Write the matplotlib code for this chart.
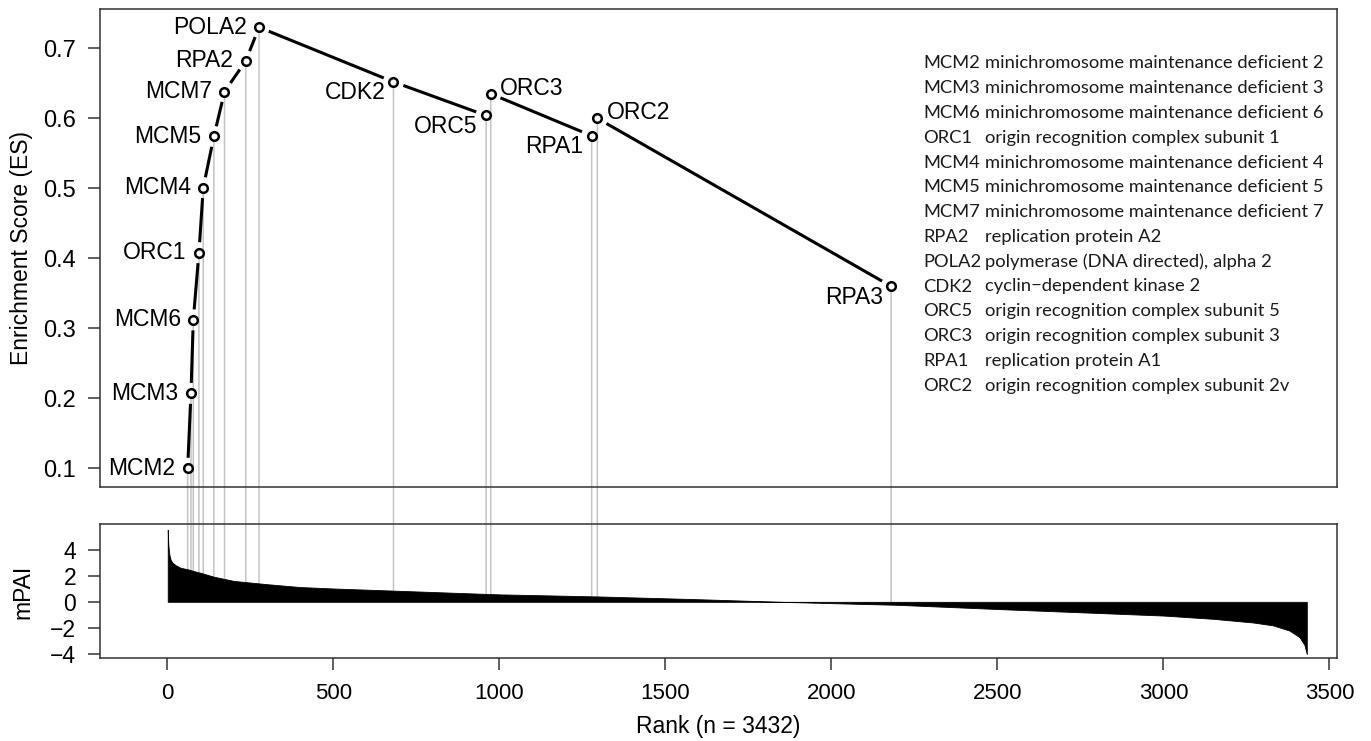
import numpy as np
import matplotlib
matplotlib.use("Agg")
import matplotlib.pyplot as plt
from matplotlib.patches import ConnectionPatch

# ---------------- data ----------------
genes = ['MCM2', 'MCM3', 'MCM6', 'ORC1', 'MCM4', 'MCM5', 'MCM7', 'RPA2',
         'POLA2', 'CDK2', 'ORC5', 'ORC3', 'RPA1', 'ORC2', 'RPA3']
gene_rank = [61, 71, 78, 95, 108, 140, 172, 236, 276, 681, 960, 974, 1278, 1295, 2180]
gene_es = [0.100, 0.207, 0.312, 0.408, 0.501, 0.574, 0.638, 0.682, 0.730,
           0.652, 0.604, 0.635, 0.575, 0.600, 0.360]
label_side = ['L', 'L', 'L', 'L', 'L', 'L', 'L', 'L', 'L',
              'LB', 'LB', 'RA', 'LB', 'RA', 'LB']

legend_genes = ['MCM2', 'MCM3', 'MCM6', 'ORC1', 'MCM4', 'MCM5', 'MCM7', 'RPA2',
                'POLA2', 'CDK2', 'ORC5', 'ORC3', 'RPA1', 'ORC2']
legend_desc = ['minichromosome maintenance deficient 2',
               'minichromosome maintenance deficient 3',
               'minichromosome maintenance deficient 6',
               'origin recognition complex subunit 1',
               'minichromosome maintenance deficient 4',
               'minichromosome maintenance deficient 5',
               'minichromosome maintenance deficient 7',
               'replication protein A2',
               'polymerase (DNA directed), alpha 2',
               'cyclin\u2212dependent kinase 2',
               'origin recognition complex subunit 5',
               'origin recognition complex subunit 3',
               'replication protein A1',
               'origin recognition complex subunit 2v']

# ranked mPAI profile (values read at these ranks)
mpai_rank = [1, 3, 6, 10, 15, 25, 40, 60, 80, 100, 140, 200, 300, 400, 500,
             700, 1000, 1300, 1600, 1850, 2000, 2200, 2500, 2800, 3000, 3150,
             3270, 3330, 3380, 3410, 3425, 3432]
mpai_val = [5.5, 4.3, 3.6, 3.2, 3.0, 2.8, 2.6, 2.5, 2.35, 2.22, 1.92, 1.6,
            1.35, 1.13, 1.02, 0.84, 0.57, 0.41, 0.2, 0.0, -0.1, -0.23, -0.55,
            -0.85, -1.05, -1.3, -1.58, -1.8, -2.2, -2.7, -3.3, -4.0]
n_total = 3432

x_ticks = [0, 500, 1000, 1500, 2000, 2500, 3000, 3500]
es_ticks = [0.1, 0.2, 0.3, 0.4, 0.5, 0.6, 0.7]
mpai_ticks = [-4, -2, 0, 2, 4]

# ---------------- figure ----------------
W, H = 1371, 741
fig = plt.figure(figsize=(W / 100, H / 100), dpi=100)
fig.patch.set_facecolor('white')

FONT = 'Liberation Sans'
LFONT = 'Lato'

def px_box(left, top, right, bottom):
    return [left / W, 1 - bottom / H, (right - left) / W, (bottom - top) / H]

ax1 = fig.add_axes(px_box(100, 9.3, 1337, 486.7))
ax2 = fig.add_axes(px_box(100, 524.3, 1337, 658.3))
for ax in (ax1, ax2):
    ax.patch.set_visible(False)
    for s in ax.spines.values():
        s.set_linewidth(1.1)
        s.set_color('#333333')
    ax.set_xlim(-203, 3523)
    ax.tick_params(direction='out', length=8.6, width=1.1, color='#333333',
                   labelsize=16, pad=8.5)

ax1.set_ylim(0.0737, 0.7557)
ax2.set_ylim(-4.32, 5.93)

ax1.set_xticks([])
ax1.set_yticks(es_ticks)
ax1.set_yticklabels([f'{t:.1f}' for t in es_ticks], fontfamily=FONT, fontsize=17)
ax2.set_xticks(x_ticks)
ax2.set_xticklabels([str(t) for t in x_ticks], fontfamily=FONT, fontsize=16)
ax2.tick_params(axis='x', pad=9.4)
ax2.set_yticks(mpai_ticks)
ax2.set_yticklabels([f'\u2212{abs(t)}' if t < 0 else str(t) for t in mpai_ticks],
                    fontfamily=FONT, fontsize=16.5)

# mPAI profile
ax2.fill_between(mpai_rank, 0, mpai_val, color='black', lw=0.6,
                 edgecolor='black', zorder=3)

# gray connecting lines (behind everything)
for r, e in zip(gene_rank, gene_es):
    cp = ConnectionPatch(xyA=(r, e), coordsA=ax1.transData,
                         xyB=(r, 0), coordsB=ax2.transData,
                         color='#c4c4c4', lw=1.1, zorder=-1)
    fig.add_artist(cp)

# ES line segments with gaps around points (like R type="b")
gap = 10.5  # px
for i in range(len(gene_rank) - 1):
    p1 = ax1.transData.transform((gene_rank[i], gene_es[i]))
    p2 = ax1.transData.transform((gene_rank[i + 1], gene_es[i + 1]))
    d = p2 - p1
    L = np.hypot(*d)
    if L <= 2 * gap + 5:
        continue
    u = d / L
    q1 = ax1.transData.inverted().transform(p1 + u * gap)
    q2 = ax1.transData.inverted().transform(p2 - u * gap)
    ax1.plot([q1[0], q2[0]], [q1[1], q2[1]], color='black', lw=2.2,
             solid_capstyle='butt', zorder=4)

ax1.plot(gene_rank, gene_es, linestyle='none', marker='o', ms=6.2,
         mfc='white', mec='black', mew=1.8, zorder=5)

# gene labels
for g, r, e, side in zip(genes, gene_rank, gene_es, label_side):
    if side == 'L':
        off, ha, va = (-9.0, 0.0), 'right', 'center'
    elif side == 'LB':
        off, ha, va = (-6.0, -7.8), 'right', 'center'
    else:
        off, ha, va = (6.7, 4.0), 'left', 'center'
    ax1.annotate(g, (r, e), xytext=off, textcoords='offset points',
                 ha=ha, va=va, fontsize=16.5, fontfamily=FONT, zorder=6)

# legend text block
y0 = 1 - (63.3 - 9.3) / 477.4
dy = 24.8 / 477.4
x_c1 = (923.3 - 100) / 1237
x_c2 = (985 - 100) / 1237
for k, (g, d) in enumerate(zip(legend_genes, legend_desc)):
    y = y0 - k * dy
    ax1.text(x_c1, y, g, transform=ax1.transAxes, ha='left', va='center',
             fontsize=13.2, fontfamily=LFONT, color='#1a1a1a')
    ax1.text(x_c2, y, d, transform=ax1.transAxes, ha='left', va='center',
             fontsize=13.2, fontfamily=LFONT, color='#1a1a1a')

# axis labels
fig.text(21.7 / W, 1 - 248 / H, 'Enrichment Score (ES)', rotation=90,
         ha='center', va='center', fontsize=16.5, fontfamily=FONT)
fig.text(23.3 / W, 1 - 591.5 / H, 'mPAI', rotation=90,
         ha='center', va='center', fontsize=16.5, fontfamily=FONT)
fig.text(718 / W, 1 - 726.7 / H, f'Rank (n = {n_total})',
         ha='center', va='center', fontsize=16.5, fontfamily=FONT)

fig.savefig('out.png', dpi=100)
